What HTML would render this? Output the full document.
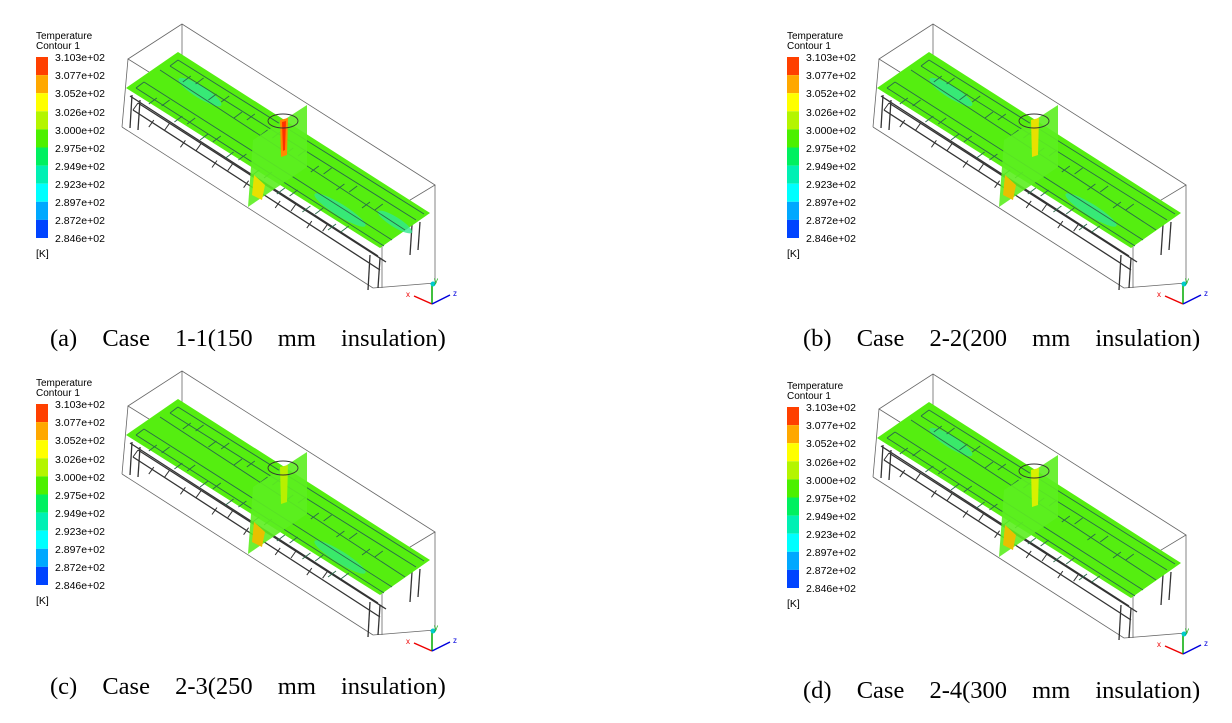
<!DOCTYPE html>
<html><head><meta charset="utf-8"><style>
html,body{margin:0;padding:0;background:#fff;}
svg{display:block;}
.l{font-family:"Liberation Sans",sans-serif;font-size:10.5px;fill:#000;}
.t{font-family:"Liberation Sans",sans-serif;font-size:10px;fill:#000;}
.c{font-family:"Liberation Serif",serif;font-size:24.5px;fill:#000;word-spacing:19px;}
.ax{font-family:"Liberation Sans",sans-serif;font-size:8px;}
</style></head><body>
<svg width="1232" height="723" viewBox="0 0 1232 723" xmlns="http://www.w3.org/2000/svg">
<!-- PANEL A -->
<g transform="translate(0,0)">
<text class="t" x="36" y="39">Temperature</text><text class="t" x="36" y="49">Contour 1</text>
<rect x="36" y="57" width="12" height="18.1" fill="#ff4000"/><rect x="36" y="75.1" width="12" height="18.1" fill="#ffa800"/><rect x="36" y="93.2" width="12" height="18.1" fill="#ffff00"/><rect x="36" y="111.3" width="12" height="18.1" fill="#b4f500"/><rect x="36" y="129.4" width="12" height="18.1" fill="#4cf000"/><rect x="36" y="147.5" width="12" height="18.1" fill="#00f060"/><rect x="36" y="165.6" width="12" height="18.1" fill="#00f0b4"/><rect x="36" y="183.7" width="12" height="18.1" fill="#00ffff"/><rect x="36" y="201.8" width="12" height="18.1" fill="#00a8ff"/><rect x="36" y="219.9" width="12" height="18.1" fill="#0044ff"/>
<text class="l" x="55" y="61">3.103e+02</text><text class="l" x="55" y="79">3.077e+02</text><text class="l" x="55" y="97">3.052e+02</text><text class="l" x="55" y="116">3.026e+02</text><text class="l" x="55" y="134">3.000e+02</text><text class="l" x="55" y="152">2.975e+02</text><text class="l" x="55" y="170">2.949e+02</text><text class="l" x="55" y="188">2.923e+02</text><text class="l" x="55" y="206">2.897e+02</text><text class="l" x="55" y="224">2.872e+02</text><text class="l" x="55" y="242">2.846e+02</text>
<text class="l" x="36" y="257">[K]</text>
<g fill="none" stroke="#666" stroke-width="0.8">
<polygon points="128,59 182,24 435,185 382,217"/>
<line x1="128" y1="59" x2="122" y2="127"/><line x1="382" y1="217" x2="382" y2="288"/><line x1="435" y1="185" x2="435" y2="283"/><line x1="122" y1="127" x2="373" y2="288"/><line x1="373" y1="288" x2="435" y2="283"/><line x1="182" y1="24" x2="182" y2="100"/>
</g>
<g stroke="#333" stroke-width="1.3" fill="none">
<line x1="130" y1="96" x2="378" y2="256"/><line x1="138" y1="103" x2="386" y2="262"/><line x1="133" y1="110" x2="380" y2="270"/>
<path d="M133,110 l5,-7 m15.8,17.1 l-5,7 m15.8,3.1 l5,-7 m15.8,17.1 l-5,7 m15.8,3.1 l5,-7 m15.8,17.1 l-5,7 m15.8,3.1 l5,-7 m15.8,17.1 l-5,7 m15.8,3.1 l5,-7 m15.8,17.1 l-5,7 m15.8,3.1 l5,-7 m15.8,17.1 l-5,7 m15.8,3.1 l5,-7" stroke-width="1"/>
<line x1="132" y1="95" x2="130" y2="128"/><line x1="140" y1="100" x2="138" y2="130"/><line x1="370" y1="255" x2="368" y2="290"/><line x1="380" y1="258" x2="378" y2="288"/><line x1="412" y1="225" x2="410" y2="255"/><line x1="420" y1="222" x2="418" y2="250"/>
</g>
<polygon points="126,88 178,52 430,213 380,248" fill="#55ee10"/>
<g fill="#30e890" opacity="0.8"><ellipse cx="200" cy="92" rx="25" ry="6" transform="rotate(32 200 92)"/><ellipse cx="340" cy="210" rx="30" ry="6" transform="rotate(32 340 210)"/><ellipse cx="395" cy="222" rx="20" ry="5" transform="rotate(32 395 222)"/></g>
<g stroke="#2a6a4a" stroke-width="0.9" fill="none">
<line x1="136" y1="88" x2="384" y2="246"/><line x1="178" y1="60" x2="424" y2="214"/><line x1="160" y1="70" x2="405" y2="230"/><line x1="144" y1="82" x2="392" y2="240"/><line x1="170" y1="66" x2="416" y2="220"/>
<path d="M136,88 l8,-6 m12.8,16 l-8,6 m12.8,2 l8,-6 m12.8,16 l-8,6 m12.8,2 l8,-6 m12.8,16 l-8,6 m12.8,2 l8,-6 m12.8,16 l-8,6 m12.8,2 l8,-6 m12.8,16 l-8,6 m12.8,2 l8,-6 m12.8,16 l-8,6 m12.8,2 l8,-6 m12.8,16 l-8,6 m12.8,2 l8,-6 m12.8,16 l-8,6 m12.8,2 l8,-6"/>
<path d="M170,66 l8,-6 m12.8,16 l-8,6 m12.8,2 l8,-6 m12.8,16 l-8,6 m12.8,2 l8,-6 m12.8,16 l-8,6 m12.8,2 l8,-6 m12.8,16 l-8,6 m12.8,2 l8,-6 m12.8,16 l-8,6 m12.8,2 l8,-6 m12.8,16 l-8,6 m12.8,2 l8,-6 m12.8,16 l-8,6 m12.8,2 l8,-6 m12.8,16 l-8,6 m12.8,2 l8,-6"/>
</g>
<polygon points="307,105 253,140 248,207 307,167" fill="#5cee20" opacity="0.9"/>
<path d="M280,120 L288,118 L287,155 L281,157 Z" fill="#ff8800"/><path d="M282,122 L286,121 L285,150 L283,151 Z" fill="#ff3000"/>
<ellipse cx="283" cy="121" rx="15" ry="7" fill="none" stroke="#333" stroke-width="0.9"/>
<path d="M254,175 L265,185 L262,200 L252,195 Z" fill="#e8e000"/>
<g stroke-width="1.5"><line x1="432" y1="304" x2="414" y2="296" stroke="#e00"/><line x1="432" y1="304" x2="432" y2="285" stroke="#0a0"/><line x1="432" y1="304" x2="450" y2="295" stroke="#00d"/></g>
<circle cx="433" cy="284" r="2.5" fill="#0cc"/><text class="ax" x="406" y="297" fill="#e00">x</text><text class="ax" x="434" y="283" fill="#0a0">y</text><text class="ax" x="453" y="296" fill="#00d">z</text>
<text class="c" x="50" y="346">(a) Case 1-1(150 mm insulation)</text>
</g>
<!-- PANEL B -->
<g transform="translate(751,0)">
<text class="t" x="36" y="39">Temperature</text><text class="t" x="36" y="49">Contour 1</text>
<rect x="36" y="57" width="12" height="18.1" fill="#ff4000"/><rect x="36" y="75.1" width="12" height="18.1" fill="#ffa800"/><rect x="36" y="93.2" width="12" height="18.1" fill="#ffff00"/><rect x="36" y="111.3" width="12" height="18.1" fill="#b4f500"/><rect x="36" y="129.4" width="12" height="18.1" fill="#4cf000"/><rect x="36" y="147.5" width="12" height="18.1" fill="#00f060"/><rect x="36" y="165.6" width="12" height="18.1" fill="#00f0b4"/><rect x="36" y="183.7" width="12" height="18.1" fill="#00ffff"/><rect x="36" y="201.8" width="12" height="18.1" fill="#00a8ff"/><rect x="36" y="219.9" width="12" height="18.1" fill="#0044ff"/>
<text class="l" x="55" y="61">3.103e+02</text><text class="l" x="55" y="79">3.077e+02</text><text class="l" x="55" y="97">3.052e+02</text><text class="l" x="55" y="116">3.026e+02</text><text class="l" x="55" y="134">3.000e+02</text><text class="l" x="55" y="152">2.975e+02</text><text class="l" x="55" y="170">2.949e+02</text><text class="l" x="55" y="188">2.923e+02</text><text class="l" x="55" y="206">2.897e+02</text><text class="l" x="55" y="224">2.872e+02</text><text class="l" x="55" y="242">2.846e+02</text>
<text class="l" x="36" y="257">[K]</text>
<g fill="none" stroke="#666" stroke-width="0.8">
<polygon points="128,59 182,24 435,185 382,217"/>
<line x1="128" y1="59" x2="122" y2="127"/><line x1="382" y1="217" x2="382" y2="288"/><line x1="435" y1="185" x2="435" y2="283"/><line x1="122" y1="127" x2="373" y2="288"/><line x1="373" y1="288" x2="435" y2="283"/><line x1="182" y1="24" x2="182" y2="100"/>
</g>
<g stroke="#333" stroke-width="1.3" fill="none">
<line x1="130" y1="96" x2="378" y2="256"/><line x1="138" y1="103" x2="386" y2="262"/><line x1="133" y1="110" x2="380" y2="270"/>
<path d="M133,110 l5,-7 m15.8,17.1 l-5,7 m15.8,3.1 l5,-7 m15.8,17.1 l-5,7 m15.8,3.1 l5,-7 m15.8,17.1 l-5,7 m15.8,3.1 l5,-7 m15.8,17.1 l-5,7 m15.8,3.1 l5,-7 m15.8,17.1 l-5,7 m15.8,3.1 l5,-7 m15.8,17.1 l-5,7 m15.8,3.1 l5,-7" stroke-width="1"/>
<line x1="132" y1="95" x2="130" y2="128"/><line x1="140" y1="100" x2="138" y2="130"/><line x1="370" y1="255" x2="368" y2="290"/><line x1="380" y1="258" x2="378" y2="288"/><line x1="412" y1="225" x2="410" y2="255"/><line x1="420" y1="222" x2="418" y2="250"/>
</g>
<polygon points="126,88 178,52 430,213 380,248" fill="#55ee10"/>
<g fill="#30e890" opacity="0.8"><ellipse cx="200" cy="92" rx="25" ry="6" transform="rotate(32 200 92)"/><ellipse cx="340" cy="210" rx="30" ry="6" transform="rotate(32 340 210)"/></g>
<g stroke="#2a6a4a" stroke-width="0.9" fill="none">
<line x1="136" y1="88" x2="384" y2="246"/><line x1="178" y1="60" x2="424" y2="214"/><line x1="160" y1="70" x2="405" y2="230"/><line x1="144" y1="82" x2="392" y2="240"/><line x1="170" y1="66" x2="416" y2="220"/>
<path d="M136,88 l8,-6 m12.8,16 l-8,6 m12.8,2 l8,-6 m12.8,16 l-8,6 m12.8,2 l8,-6 m12.8,16 l-8,6 m12.8,2 l8,-6 m12.8,16 l-8,6 m12.8,2 l8,-6 m12.8,16 l-8,6 m12.8,2 l8,-6 m12.8,16 l-8,6 m12.8,2 l8,-6 m12.8,16 l-8,6 m12.8,2 l8,-6 m12.8,16 l-8,6 m12.8,2 l8,-6"/>
<path d="M170,66 l8,-6 m12.8,16 l-8,6 m12.8,2 l8,-6 m12.8,16 l-8,6 m12.8,2 l8,-6 m12.8,16 l-8,6 m12.8,2 l8,-6 m12.8,16 l-8,6 m12.8,2 l8,-6 m12.8,16 l-8,6 m12.8,2 l8,-6 m12.8,16 l-8,6 m12.8,2 l8,-6 m12.8,16 l-8,6 m12.8,2 l8,-6 m12.8,16 l-8,6 m12.8,2 l8,-6"/>
</g>
<polygon points="307,105 253,140 248,207 307,167" fill="#5cee20" opacity="0.9"/>
<path d="M280,120 L288,118 L287,155 L281,157 Z" fill="#e8e000"/>
<ellipse cx="283" cy="121" rx="15" ry="7" fill="none" stroke="#333" stroke-width="0.9"/>
<path d="M254,175 L265,185 L262,200 L252,195 Z" fill="#e8c000"/>
<g stroke-width="1.5"><line x1="432" y1="304" x2="414" y2="296" stroke="#e00"/><line x1="432" y1="304" x2="432" y2="285" stroke="#0a0"/><line x1="432" y1="304" x2="450" y2="295" stroke="#00d"/></g>
<circle cx="433" cy="284" r="2.5" fill="#0cc"/><text class="ax" x="406" y="297" fill="#e00">x</text><text class="ax" x="434" y="283" fill="#0a0">y</text><text class="ax" x="453" y="296" fill="#00d">z</text>
<text class="c" x="52" y="346">(b) Case 2-2(200 mm insulation)</text>
</g>
<!-- PANEL C -->
<g transform="translate(0,347)">
<text class="t" x="36" y="39">Temperature</text><text class="t" x="36" y="49">Contour 1</text>
<rect x="36" y="57" width="12" height="18.1" fill="#ff4000"/><rect x="36" y="75.1" width="12" height="18.1" fill="#ffa800"/><rect x="36" y="93.2" width="12" height="18.1" fill="#ffff00"/><rect x="36" y="111.3" width="12" height="18.1" fill="#b4f500"/><rect x="36" y="129.4" width="12" height="18.1" fill="#4cf000"/><rect x="36" y="147.5" width="12" height="18.1" fill="#00f060"/><rect x="36" y="165.6" width="12" height="18.1" fill="#00f0b4"/><rect x="36" y="183.7" width="12" height="18.1" fill="#00ffff"/><rect x="36" y="201.8" width="12" height="18.1" fill="#00a8ff"/><rect x="36" y="219.9" width="12" height="18.1" fill="#0044ff"/>
<text class="l" x="55" y="61">3.103e+02</text><text class="l" x="55" y="79">3.077e+02</text><text class="l" x="55" y="97">3.052e+02</text><text class="l" x="55" y="116">3.026e+02</text><text class="l" x="55" y="134">3.000e+02</text><text class="l" x="55" y="152">2.975e+02</text><text class="l" x="55" y="170">2.949e+02</text><text class="l" x="55" y="188">2.923e+02</text><text class="l" x="55" y="206">2.897e+02</text><text class="l" x="55" y="224">2.872e+02</text><text class="l" x="55" y="242">2.846e+02</text>
<text class="l" x="36" y="257">[K]</text>
<g fill="none" stroke="#666" stroke-width="0.8">
<polygon points="128,59 182,24 435,185 382,217"/>
<line x1="128" y1="59" x2="122" y2="127"/><line x1="382" y1="217" x2="382" y2="288"/><line x1="435" y1="185" x2="435" y2="283"/><line x1="122" y1="127" x2="373" y2="288"/><line x1="373" y1="288" x2="435" y2="283"/><line x1="182" y1="24" x2="182" y2="100"/>
</g>
<g stroke="#333" stroke-width="1.3" fill="none">
<line x1="130" y1="96" x2="378" y2="256"/><line x1="138" y1="103" x2="386" y2="262"/><line x1="133" y1="110" x2="380" y2="270"/>
<path d="M133,110 l5,-7 m15.8,17.1 l-5,7 m15.8,3.1 l5,-7 m15.8,17.1 l-5,7 m15.8,3.1 l5,-7 m15.8,17.1 l-5,7 m15.8,3.1 l5,-7 m15.8,17.1 l-5,7 m15.8,3.1 l5,-7 m15.8,17.1 l-5,7 m15.8,3.1 l5,-7 m15.8,17.1 l-5,7 m15.8,3.1 l5,-7" stroke-width="1"/>
<line x1="132" y1="95" x2="130" y2="128"/><line x1="140" y1="100" x2="138" y2="130"/><line x1="370" y1="255" x2="368" y2="290"/><line x1="380" y1="258" x2="378" y2="288"/><line x1="412" y1="225" x2="410" y2="255"/><line x1="420" y1="222" x2="418" y2="250"/>
</g>
<polygon points="126,88 178,52 430,213 380,248" fill="#55ee10"/>
<g fill="#30e890" opacity="0.7"><ellipse cx="340" cy="210" rx="30" ry="6" transform="rotate(32 340 210)"/></g>
<g stroke="#2a6a4a" stroke-width="0.9" fill="none">
<line x1="136" y1="88" x2="384" y2="246"/><line x1="178" y1="60" x2="424" y2="214"/><line x1="160" y1="70" x2="405" y2="230"/><line x1="144" y1="82" x2="392" y2="240"/><line x1="170" y1="66" x2="416" y2="220"/>
<path d="M136,88 l8,-6 m12.8,16 l-8,6 m12.8,2 l8,-6 m12.8,16 l-8,6 m12.8,2 l8,-6 m12.8,16 l-8,6 m12.8,2 l8,-6 m12.8,16 l-8,6 m12.8,2 l8,-6 m12.8,16 l-8,6 m12.8,2 l8,-6 m12.8,16 l-8,6 m12.8,2 l8,-6 m12.8,16 l-8,6 m12.8,2 l8,-6 m12.8,16 l-8,6 m12.8,2 l8,-6"/>
<path d="M170,66 l8,-6 m12.8,16 l-8,6 m12.8,2 l8,-6 m12.8,16 l-8,6 m12.8,2 l8,-6 m12.8,16 l-8,6 m12.8,2 l8,-6 m12.8,16 l-8,6 m12.8,2 l8,-6 m12.8,16 l-8,6 m12.8,2 l8,-6 m12.8,16 l-8,6 m12.8,2 l8,-6 m12.8,16 l-8,6 m12.8,2 l8,-6 m12.8,16 l-8,6 m12.8,2 l8,-6"/>
</g>
<polygon points="307,105 253,140 248,207 307,167" fill="#5cee20" opacity="0.9"/>
<path d="M280,120 L288,118 L287,155 L281,157 Z" fill="#b8f000"/>
<ellipse cx="283" cy="121" rx="15" ry="7" fill="none" stroke="#333" stroke-width="0.9"/>
<path d="M254,175 L265,185 L262,200 L252,195 Z" fill="#e8c000"/>
<g stroke-width="1.5"><line x1="432" y1="304" x2="414" y2="296" stroke="#e00"/><line x1="432" y1="304" x2="432" y2="285" stroke="#0a0"/><line x1="432" y1="304" x2="450" y2="295" stroke="#00d"/></g>
<circle cx="433" cy="284" r="2.5" fill="#0cc"/><text class="ax" x="406" y="297" fill="#e00">x</text><text class="ax" x="434" y="283" fill="#0a0">y</text><text class="ax" x="453" y="296" fill="#00d">z</text>
<text class="c" x="50" y="347">(c) Case 2-3(250 mm insulation)</text>
</g>
<!-- PANEL D -->
<g transform="translate(751,350)">
<text class="t" x="36" y="39">Temperature</text><text class="t" x="36" y="49">Contour 1</text>
<rect x="36" y="57" width="12" height="18.1" fill="#ff4000"/><rect x="36" y="75.1" width="12" height="18.1" fill="#ffa800"/><rect x="36" y="93.2" width="12" height="18.1" fill="#ffff00"/><rect x="36" y="111.3" width="12" height="18.1" fill="#b4f500"/><rect x="36" y="129.4" width="12" height="18.1" fill="#4cf000"/><rect x="36" y="147.5" width="12" height="18.1" fill="#00f060"/><rect x="36" y="165.6" width="12" height="18.1" fill="#00f0b4"/><rect x="36" y="183.7" width="12" height="18.1" fill="#00ffff"/><rect x="36" y="201.8" width="12" height="18.1" fill="#00a8ff"/><rect x="36" y="219.9" width="12" height="18.1" fill="#0044ff"/>
<text class="l" x="55" y="61">3.103e+02</text><text class="l" x="55" y="79">3.077e+02</text><text class="l" x="55" y="97">3.052e+02</text><text class="l" x="55" y="116">3.026e+02</text><text class="l" x="55" y="134">3.000e+02</text><text class="l" x="55" y="152">2.975e+02</text><text class="l" x="55" y="170">2.949e+02</text><text class="l" x="55" y="188">2.923e+02</text><text class="l" x="55" y="206">2.897e+02</text><text class="l" x="55" y="224">2.872e+02</text><text class="l" x="55" y="242">2.846e+02</text>
<text class="l" x="36" y="257">[K]</text>
<g fill="none" stroke="#666" stroke-width="0.8">
<polygon points="128,59 182,24 435,185 382,217"/>
<line x1="128" y1="59" x2="122" y2="127"/><line x1="382" y1="217" x2="382" y2="288"/><line x1="435" y1="185" x2="435" y2="283"/><line x1="122" y1="127" x2="373" y2="288"/><line x1="373" y1="288" x2="435" y2="283"/><line x1="182" y1="24" x2="182" y2="100"/>
</g>
<g stroke="#333" stroke-width="1.3" fill="none">
<line x1="130" y1="96" x2="378" y2="256"/><line x1="138" y1="103" x2="386" y2="262"/><line x1="133" y1="110" x2="380" y2="270"/>
<path d="M133,110 l5,-7 m15.8,17.1 l-5,7 m15.8,3.1 l5,-7 m15.8,17.1 l-5,7 m15.8,3.1 l5,-7 m15.8,17.1 l-5,7 m15.8,3.1 l5,-7 m15.8,17.1 l-5,7 m15.8,3.1 l5,-7 m15.8,17.1 l-5,7 m15.8,3.1 l5,-7 m15.8,17.1 l-5,7 m15.8,3.1 l5,-7" stroke-width="1"/>
<line x1="132" y1="95" x2="130" y2="128"/><line x1="140" y1="100" x2="138" y2="130"/><line x1="370" y1="255" x2="368" y2="290"/><line x1="380" y1="258" x2="378" y2="288"/><line x1="412" y1="225" x2="410" y2="255"/><line x1="420" y1="222" x2="418" y2="250"/>
</g>
<polygon points="126,88 178,52 430,213 380,248" fill="#55ee10"/>
<g fill="#30e890" opacity="0.7"><ellipse cx="200" cy="92" rx="25" ry="6" transform="rotate(32 200 92)"/></g>
<g stroke="#2a6a4a" stroke-width="0.9" fill="none">
<line x1="136" y1="88" x2="384" y2="246"/><line x1="178" y1="60" x2="424" y2="214"/><line x1="160" y1="70" x2="405" y2="230"/><line x1="144" y1="82" x2="392" y2="240"/><line x1="170" y1="66" x2="416" y2="220"/>
<path d="M136,88 l8,-6 m12.8,16 l-8,6 m12.8,2 l8,-6 m12.8,16 l-8,6 m12.8,2 l8,-6 m12.8,16 l-8,6 m12.8,2 l8,-6 m12.8,16 l-8,6 m12.8,2 l8,-6 m12.8,16 l-8,6 m12.8,2 l8,-6 m12.8,16 l-8,6 m12.8,2 l8,-6 m12.8,16 l-8,6 m12.8,2 l8,-6 m12.8,16 l-8,6 m12.8,2 l8,-6"/>
<path d="M170,66 l8,-6 m12.8,16 l-8,6 m12.8,2 l8,-6 m12.8,16 l-8,6 m12.8,2 l8,-6 m12.8,16 l-8,6 m12.8,2 l8,-6 m12.8,16 l-8,6 m12.8,2 l8,-6 m12.8,16 l-8,6 m12.8,2 l8,-6 m12.8,16 l-8,6 m12.8,2 l8,-6 m12.8,16 l-8,6 m12.8,2 l8,-6 m12.8,16 l-8,6 m12.8,2 l8,-6"/>
</g>
<polygon points="307,105 253,140 248,207 307,167" fill="#5cee20" opacity="0.9"/>
<path d="M280,120 L288,118 L287,155 L281,157 Z" fill="#d8f000"/>
<ellipse cx="283" cy="121" rx="15" ry="7" fill="none" stroke="#333" stroke-width="0.9"/>
<path d="M254,175 L265,185 L262,200 L252,195 Z" fill="#e8c000"/>
<g stroke-width="1.5"><line x1="432" y1="304" x2="414" y2="296" stroke="#e00"/><line x1="432" y1="304" x2="432" y2="285" stroke="#0a0"/><line x1="432" y1="304" x2="450" y2="295" stroke="#00d"/></g>
<circle cx="433" cy="284" r="2.5" fill="#0cc"/><text class="ax" x="406" y="297" fill="#e00">x</text><text class="ax" x="434" y="283" fill="#0a0">y</text><text class="ax" x="453" y="296" fill="#00d">z</text>
<text class="c" x="52" y="348">(d) Case 2-4(300 mm insulation)</text>
</g>
</svg>
</body></html>
